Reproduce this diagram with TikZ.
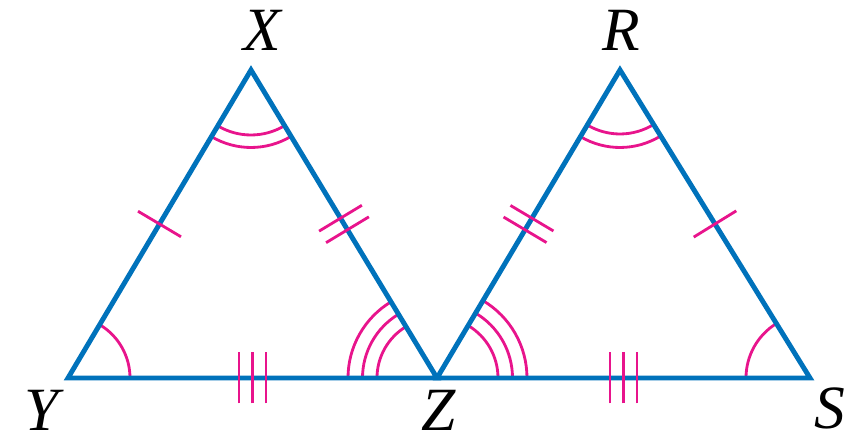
\documentclass[tikz,border=0pt]{standalone}
\usepackage{fontspec}
\setmainfont{Liberation Serif}
\usepackage{xcolor}
\usepackage{tikz}
\usetikzlibrary{angles, decorations.markings}

\definecolor{edgeblue}{RGB}{0,114,187}
\definecolor{markpink}{RGB}{232,20,140}

\begin{document}
\begin{tikzpicture}[
  edge/.style     = {draw=edgeblue, line width=2.8pt, line join=miter},
  tickline/.style = {draw=markpink, line width=1.6pt},
  arcmark/.style  = {draw=markpink, line width=1.6pt},
  lbl/.style      = {anchor=base, inner sep=0pt, outer sep=0pt,
                     font=\fontsize{35}{40}\selectfont\itshape},
  onetick/.style  = {postaction={decorate, decoration={markings,
      mark=at position 0.5 with {\draw[tickline] (0,-0.5) -- (0,0.5);}}}},
  twoticks/.style = {postaction={decorate, decoration={markings,
      mark=at position 0.5 with {\draw[tickline] (-0.135,-0.5) -- (-0.135,0.5)
                                                 (0.135,-0.5) -- (0.135,0.5);}}}},
  threeticks/.style = {postaction={decorate, decoration={markings,
      mark=at position 0.5 with {\draw[tickline] (-0.27,-0.51) -- (-0.27,0.51)
                                                 (0,-0.51) -- (0,0.51)
                                                 (0.27,-0.51) -- (0.27,0.51);}}}}
]
\useasboundingbox (0,0) rectangle (17.28,8.84);

\coordinate (Y) at (1.36,1.28);
\coordinate (X) at (5.02,7.44);
\coordinate (Z) at (8.74,1.28);
\coordinate (R) at (12.40,7.44);
\coordinate (S) at (16.20,1.28);

% angle marks
\pic[arcmark, angle radius=1.24cm] {angle = Z--Y--X};
\foreach \r in {1.30,1.55}
  \pic[arcmark, angle radius=\r cm] {angle = Y--X--Z};
\foreach \r in {1.20,1.49,1.78}
  \pic[arcmark, angle radius=\r cm] {angle = X--Z--Y};
\foreach \r in {1.22,1.51,1.80}
  \pic[arcmark, angle radius=\r cm] {angle = S--Z--R};
\foreach \r in {1.28,1.55}
  \pic[arcmark, angle radius=\r cm] {angle = Z--R--S};
\pic[arcmark, angle radius=1.28cm] {angle = R--S--Z};

% triangles
\draw[edge] (Y) -- (X) -- (Z) -- cycle;
\draw[edge] (Z) -- (R) -- (S) -- cycle;

% side ticks
\path[onetick]    (Y) -- (X);
\path[twoticks]   (X) -- (Z);
\path[threeticks] (Y) -- (Z);
\path[twoticks]   (Z) -- (R);
\path[onetick]    (R) -- (S);
\path[threeticks] (Z) -- (S);

% vertex labels
\node[lbl] (lX) at (5.24,7.82) {X};
\node[lbl] (lR) at (12.42,7.82) {R};
\node[lbl] (lY) at (0.84,0.22) {Y};
\node[lbl] (lZ) at (8.78,0.22) {Z};
\node[lbl] (lS) at (16.60,0.26) {S};

\end{tikzpicture}
\end{document}
